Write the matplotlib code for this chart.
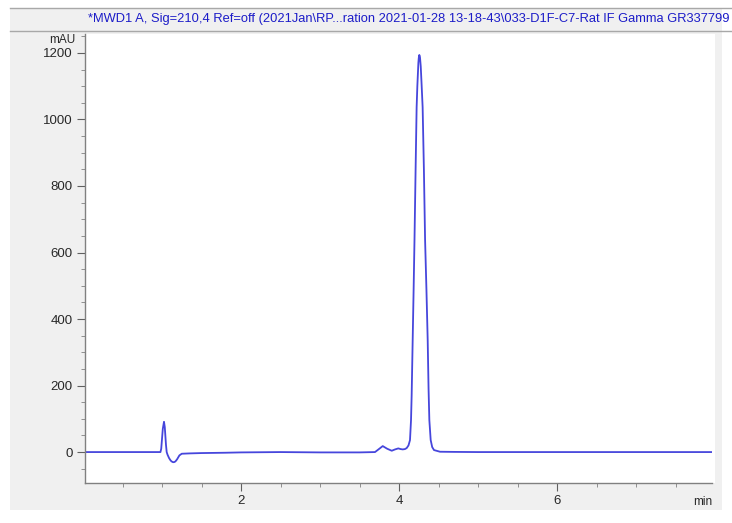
import matplotlib.pyplot as plt
from matplotlib.patches import Rectangle
from matplotlib.lines import Line2D
from matplotlib.ticker import MultipleLocator

# retention time [min] and signal [mAU]
time_min = [0.025, 0.5, 0.98, 0.99, 1.0, 1.01, 1.025, 1.035, 1.042, 1.05,
            1.059, 1.07, 1.089, 1.105, 1.12, 1.14, 1.156, 1.17, 1.19, 1.22,
            1.25, 1.35, 1.5, 1.8, 2.0, 2.5, 3.0, 3.5, 3.696, 3.74,
            3.794, 3.85, 3.908, 3.95, 3.991, 4.02, 4.047, 4.075, 4.097, 4.12,
            4.139, 4.152, 4.16, 4.173, 4.185, 4.196, 4.21, 4.223, 4.232, 4.245,
            4.25, 4.257, 4.265, 4.275, 4.285, 4.299, 4.315, 4.33, 4.347, 4.363,
            4.374, 4.384, 4.401, 4.42, 4.443, 4.519, 4.7, 5.0, 6.0, 7.0,
            7.962]
signal_mau = [0, 0, 0, 10, 40, 70, 91, 75, 50, 22,
              0, -8, -18, -24, -28, -30.5, -30, -28, -22, -10,
              -5, -4, -3, -2, -1, 0, -1, -1, 0, 8,
              18, 10, 4, 8, 11, 9, 8, 9, 12, 20,
              36, 96, 170, 337, 490, 638, 850, 1037, 1100, 1170,
              1185, 1194, 1188, 1160, 1110, 1037, 850, 638, 490, 337,
              190, 96, 36, 15, 6, 1, 0.5, 0, 0, 0,
              0]

title = ('*MWD1 A, Sig=210,4 Ref=off (2021Jan\\RP...ration 2021-01-28 '
         '13-18-43\\033-D1F-C7-Rat IF Gamma GR337799')

plt.rcParams['font.family'] = ['Liberation Sans', 'DejaVu Sans']

W, H = 732, 523
fig = plt.figure(figsize=(W / 100, H / 100), dpi=100)
fig.patch.set_facecolor('white')

# grey panel and title band
fig.patches.append(Rectangle((10 / W, 1 - 510 / H), 712 / W, 502 / H,
                             transform=fig.transFigure, facecolor='#f0f0f0',
                             edgecolor='none', zorder=-10))
fig.patches.append(Rectangle((85 / W, 1 - 483 / H), 630 / W, 449 / H,
                             transform=fig.transFigure, facecolor='white',
                             edgecolor='none', zorder=-9))
for yp in (8, 31):
    fig.lines.append(Line2D([10 / W, 1], [1 - yp / H, 1 - yp / H],
                            transform=fig.transFigure, color='#a8a8a8', lw=1))
fig.text(88 / W, 1 - 19 / H, title, color='#1c1cc8', fontsize=9.3, va='center', ha='left')

ax = fig.add_axes([85 / W, 1 - 483 / H, 627 / W, 449 / H])
ax.set_facecolor('white')
ax.plot(time_min, signal_mau, color='#4646dc', lw=1.3)

ax.set_xlim(0.025, 7.962)
ax.set_ylim(-93, 1257)

for s in ('top', 'right'):
    ax.spines[s].set_visible(False)
for s in ('left', 'bottom'):
    ax.spines[s].set_color('#808080')
    ax.spines[s].set_linewidth(1)

ax.xaxis.set_major_locator(MultipleLocator(2))
ax.xaxis.set_minor_locator(MultipleLocator(0.5))
ax.yaxis.set_major_locator(MultipleLocator(200))
ax.yaxis.set_minor_locator(MultipleLocator(50))
ax.tick_params(which='major', length=6, color='#606060', labelsize=9.5,
               labelcolor='#282828', pad=3)
ax.tick_params(which='minor', length=3, color='#808080')

ax.text(-0.015, 1.0, 'mAU', transform=ax.transAxes, ha='right', va='top',
        fontsize=8.5, color='#282828')
ax.text(1.0, -0.028, 'min', transform=ax.transAxes, ha='right', va='top',
        fontsize=8.5, color='#282828')

fig.savefig('out.png', dpi=100)
